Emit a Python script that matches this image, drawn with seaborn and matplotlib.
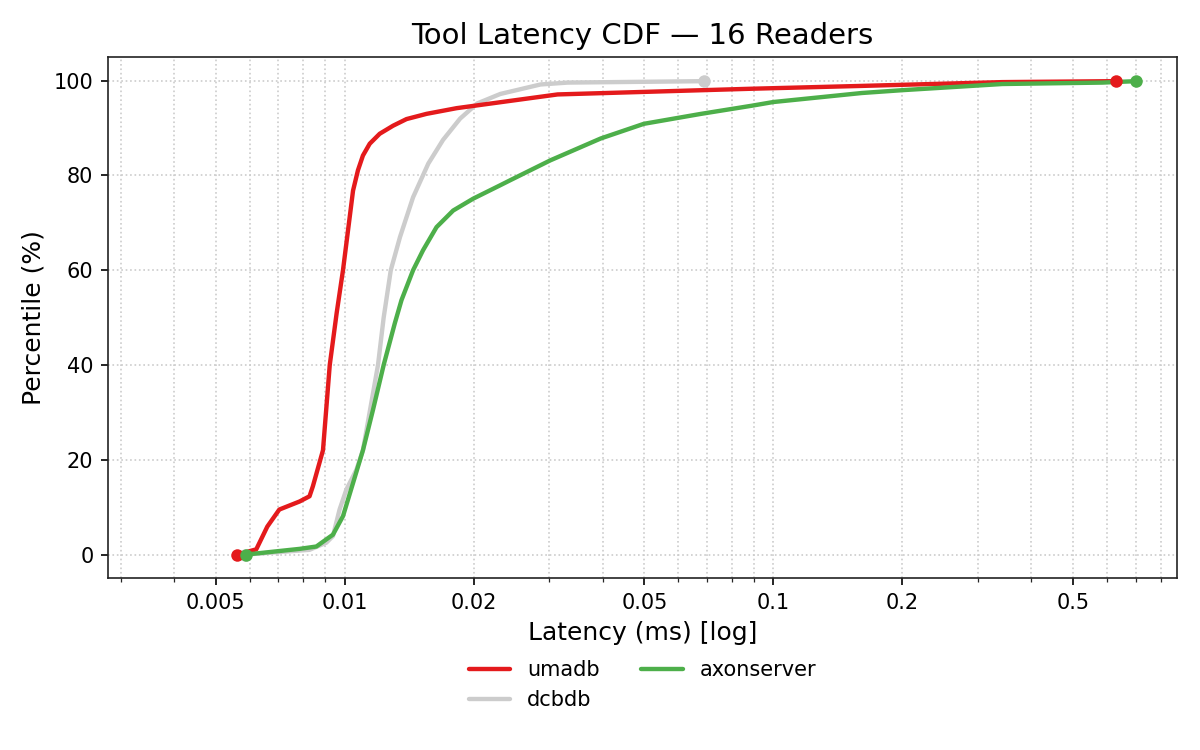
import numpy as np
import pandas as pd
import seaborn as sns
import matplotlib
matplotlib.use("Agg")
import matplotlib.pyplot as plt
from matplotlib.ticker import FixedLocator, FixedFormatter, NullFormatter

# latency (ms) / percentile (%)
umadb_ms = [0.00561, 0.00622, 0.00660, 0.00704, 0.00785, 0.00828, 0.00843, 0.00890,
            0.00923, 0.00958, 0.00991, 0.01046, 0.01074, 0.01103, 0.01144, 0.01207,
            0.01297, 0.01394, 0.01552, 0.01824, 0.03138, 0.0888, 0.1607, 0.342, 0.629]
umadb_pct = [0, 1.1, 5.9, 9.5, 11.2, 12.3, 14.4, 22,
             40, 51, 60, 76.8, 81.1, 84.2, 86.7, 88.8,
             90.5, 91.9, 93.0, 94.2, 97.1, 98.3, 98.9, 99.7, 99.9]

dcbdb_ms = [0.00586, 0.00828, 0.00906, 0.00939, 0.00973, 0.01009, 0.01065, 0.01103,
            0.01196, 0.01233, 0.01281, 0.01346, 0.01444, 0.01567, 0.01696, 0.01859,
            0.02038, 0.02307, 0.02862, 0.03311, 0.0689]
dcbdb_pct = [0, 1.0, 2.5, 3.9, 9.5, 13.7, 17.9, 22,
             40, 50, 60, 67, 75.4, 82.5, 87.5, 92.0,
             95.2, 97.2, 99.2, 99.6, 99.9]

axon_ms = [0.00589, 0.00785, 0.00859, 0.00906, 0.00939, 0.00991, 0.01046, 0.01103,
           0.01164, 0.01233, 0.01309, 0.01357, 0.01444, 0.01523, 0.01638, 0.01791,
           0.01994, 0.02302, 0.02434, 0.03020, 0.03955, 0.04988, 0.0678, 0.0888,
           0.1, 0.1607, 0.2, 0.342, 0.586, 0.70]
axon_pct = [0, 1.2, 1.7, 3.2, 4.2, 8.1, 15.1, 22,
            30.5, 40, 48.8, 53.7, 60, 64.2, 69.1, 72.6,
            75.1, 77.9, 79, 83.2, 87.8, 90.9, 93, 94.7,
            95.5, 97.4, 98.0, 99.3, 99.6, 99.9]

tools = ["dcbdb", "umadb", "axonserver"]          # drawing order
legend_order = ["umadb", "dcbdb", "axonserver"]
colors = {"umadb": "#e41a1c", "dcbdb": "#cccccc", "axonserver": "#4daf4a"}

major_ticks = [0.005, 0.01, 0.02, 0.05, 0.1, 0.2, 0.5]
major_labels = ["0.005", "0.01", "0.02", "0.05", "0.1", "0.2", "0.5"]

df = pd.concat([
    pd.DataFrame({"latency": umadb_ms, "pct": umadb_pct, "tool": "umadb"}),
    pd.DataFrame({"latency": dcbdb_ms, "pct": dcbdb_pct, "tool": "dcbdb"}),
    pd.DataFrame({"latency": axon_ms, "pct": axon_pct, "tool": "axonserver"}),
], ignore_index=True)

sns.set_style("ticks")
plt.rcParams["font.family"] = ["DejaVu Sans"]
plt.rcParams["text.color"] = "black"
plt.rcParams["axes.labelcolor"] = "black"

fig, ax = plt.subplots(figsize=(8, 5), dpi=150)
fig.subplots_adjust(left=0.09, right=0.981, top=0.924, bottom=0.229)

sns.lineplot(data=df, x="latency", y="pct", hue="tool", hue_order=tools,
             palette=colors, estimator=None, sort=False, linewidth=2.1, ax=ax)

# first and last point of every curve
pts = pd.concat([df[df["tool"] == t].iloc[[0, -1]] for t in tools], ignore_index=True)
for t in tools:
    sub = pts[pts["tool"] == t]
    sns.scatterplot(data=sub, x="latency", y="pct", color=colors[t], s=36,
                    linewidth=0, legend=False, ax=ax, zorder=5)

ax.set_xscale("log")
ax.set_xlim(min(df["latency"]) * 0.5, max(df["latency"]) * 1.25)
ax.set_ylim(-5, 105)
ax.xaxis.set_major_locator(FixedLocator(major_ticks))
ax.xaxis.set_major_formatter(FixedFormatter(major_labels))
ax.xaxis.set_minor_formatter(NullFormatter())
ax.set_yticks([0, 20, 40, 60, 80, 100])
ax.tick_params(labelsize=10, colors="black")
ax.grid(True, which="both", axis="x", linestyle=":", color="#cccccc", linewidth=0.8)
ax.grid(True, which="major", axis="y", linestyle=":", color="#cccccc", linewidth=0.8)
for s in ax.spines.values():
    s.set_color("#222222")
    s.set_visible(True)

ax.set_title("Tool Latency CDF — 16 Readers", fontsize=14)
ax.set_xlabel("Latency (ms) [log]", fontsize=12)
ax.set_ylabel("Percentile (%)", fontsize=12)

handles, labels = ax.get_legend_handles_labels()
lookup = dict(zip(labels, handles))
leg = ax.legend([lookup[t] for t in legend_order], legend_order, loc="upper center",
                bbox_to_anchor=(0.5, -0.121), ncol=2, frameon=False, fontsize=10)
for txt in leg.get_texts():
    txt.set_color("black")

fig.savefig("out.png", dpi=150)
